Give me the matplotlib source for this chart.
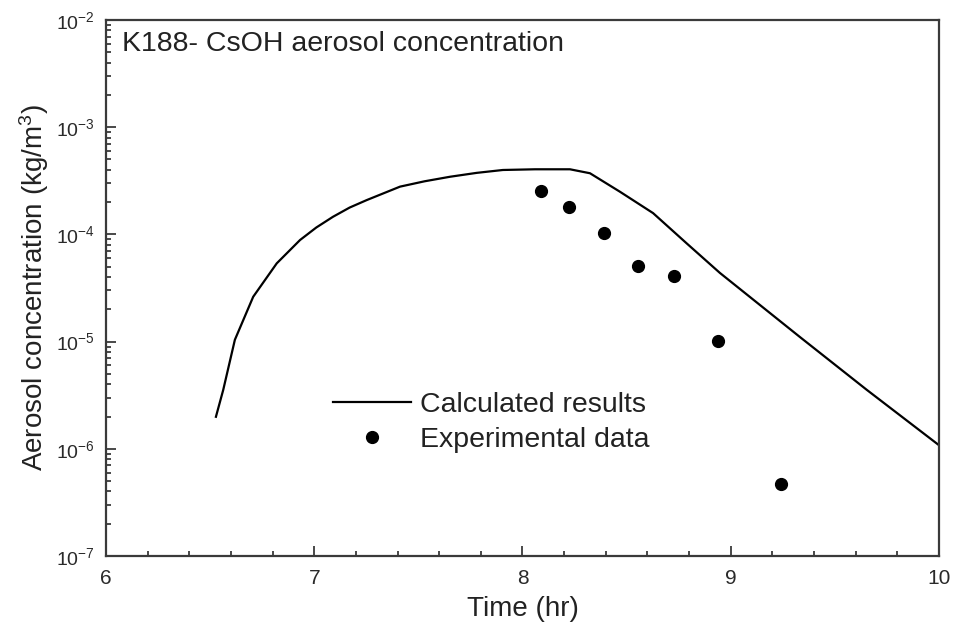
import numpy as np
import matplotlib
matplotlib.use("Agg")
import matplotlib.pyplot as plt
from matplotlib.ticker import MultipleLocator, LogLocator

plt.rcParams['font.family'] = ['Liberation Sans', 'DejaVu Sans']
plt.rcParams['mathtext.fontset'] = 'custom'
plt.rcParams['mathtext.rm'] = 'Liberation Sans'
plt.rcParams['mathtext.it'] = 'Liberation Sans:italic'
plt.rcParams['axes.unicode_minus'] = False

# Calculated results
calc_time = [6.528, 6.563, 6.619, 6.707, 6.820, 6.932, 7.010, 7.090, 7.170,
             7.252, 7.412, 7.530, 7.652, 7.780, 7.906, 8.060, 8.228, 8.324,
             8.468, 8.627, 8.788, 8.948, 9.333, 9.653, 10.0]
calc_conc = [1.99e-6, 3.54e-6, 1.04e-5, 2.62e-5, 5.37e-5, 8.87e-5, 1.16e-4,
             1.46e-4, 1.78e-4, 2.09e-4, 2.79e-4, 3.13e-4, 3.45e-4, 3.75e-4,
             3.99e-4, 4.05e-4, 4.05e-4, 3.72e-4, 2.50e-4, 1.58e-4, 8.26e-5,
             4.37e-5, 1.10e-5, 3.55e-6, 1.08e-6]

# Experimental data
exp_time = [8.089, 8.223, 8.391, 8.555, 8.727, 8.939, 9.241]
exp_conc = [2.54e-4, 1.80e-4, 1.03e-4, 5.07e-5, 4.09e-5, 1.01e-5, 4.72e-7]

fig = plt.figure(figsize=(9.58, 6.27), dpi=100)
ax = fig.add_axes([0.1106, 0.1132, 0.8696, 0.8549])

ax.plot(calc_time, calc_conc, color='black', lw=1.6, label='Calculated results')
ax.plot(exp_time, exp_conc, 'o', color='black', ms=8.5, ls='none',
        label='Experimental data')

ax.set_yscale('log')
ax.set_xlim(6, 10)
ax.set_ylim(1e-7, 1e-2)
ax.xaxis.set_major_locator(MultipleLocator(1))
ax.xaxis.set_minor_locator(MultipleLocator(0.2))
ax.yaxis.set_major_locator(LogLocator(base=10, numticks=10))
ax.yaxis.set_minor_locator(LogLocator(base=10, subs=np.arange(2, 10), numticks=20))

for s in ax.spines.values():
    s.set_linewidth(1.6)
    s.set_color('#3a3a3a')

ax.tick_params(which='both', direction='in', top=False, right=False,
               colors='#3a3a3a', labelcolor='#2a2a2a', width=1.3)
ax.tick_params(axis='x', which='major', length=7, labelsize=15, pad=9)
ax.tick_params(axis='y', which='major', length=7, labelsize=14, pad=8)
ax.tick_params(which='minor', length=3.5)

ax.set_xlabel('Time (hr)', fontsize=20, color='#222222', labelpad=6)
ax.set_ylabel('Aerosol concentration (kg/m$^3$)', fontsize=20, color='#222222')
ax.yaxis.set_label_coords(-0.066, 0.5)

ax.text(0.019, 0.942, 'K188- CsOH aerosol concentration', transform=ax.transAxes,
        fontsize=20.5, color='#222222', va='baseline', ha='left')

ax.legend(loc='center left', bbox_to_anchor=(0.2725, 0.249), frameon=False,
          fontsize=20.5, handlelength=2.75, handletextpad=0.3, borderpad=0,
          borderaxespad=0, labelspacing=0.3, labelcolor='#222222')

fig.savefig('out.png', dpi=100)
